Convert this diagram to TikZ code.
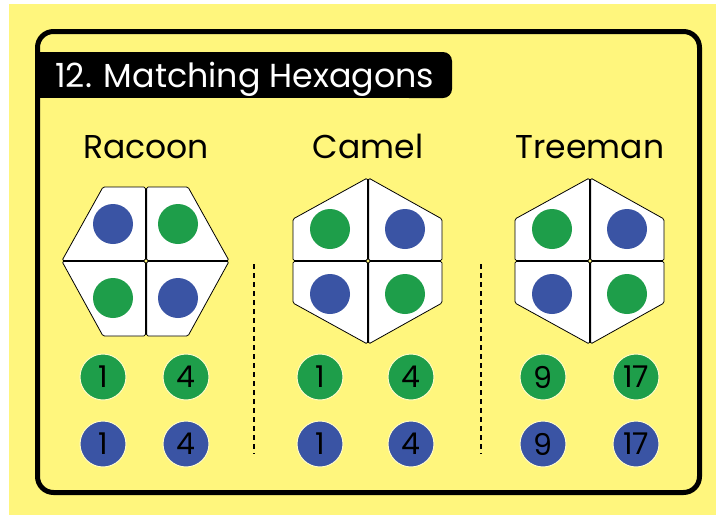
\documentclass[tikz,border=0pt]{standalone}
\usepackage{fontspec}
\setmainfont{Poppins}
\definecolor{bgyellow}{RGB}{255,246,125}
\definecolor{dotgreen}{RGB}{30,158,74}
\definecolor{dotblue}{RGB}{58,84,164}
\begin{document}
\begin{tikzpicture}[x=1pt,y=-1pt,
  piece/.style={fill=white, draw=black, line width=0.8pt, rounded corners=1.5pt},
  dot/.style={circle, minimum size=40pt, inner sep=0pt},
  numc/.style={circle, minimum size=46pt, inner sep=0pt, draw=white!55!bgyellow, line width=1pt, font=\fontsize{30}{30}\selectfont, text=black},
  sep/.style={dash pattern=on 5pt off 4pt, line width=1.8pt},
  label/.style={anchor=base, font=\fontsize{33}{33}\selectfont, text=black}]
\useasboundingbox (0,0) rectangle (716,515);
\fill[bgyellow] (9,4) rectangle (716,515);
\draw[line width=5pt, rounded corners=16pt] (37.5,31.5) rectangle (699.5,492.5);
% title bar
\fill[black] (35,52) rectangle (440,98);
\fill[black, rounded corners=9pt] (400,52) rectangle (452,98);
\node[anchor=base west, inner sep=0pt, text=white, font=\fontsize{33.3}{33.3}\selectfont] (title) at (55,87) {12. Matching Hexagons};
% labels
\node[label] (racoon) at (146,158) {Racoon};
\node[label] (camel) at (368,158) {Camel};
\node[label] (treeman) at (590,158) {Treeman};
% Racoon hexagon (flat top)
\draw[piece] (62,260.6) -- (103,187) -- (145.4,187) -- (145.4,260.6) -- cycle;
\draw[piece] (146.6,187) -- (188,187) -- (229,260.6) -- (146.6,260.6) -- cycle;
\draw[piece] (62,261.4) -- (145.4,261.4) -- (145.4,336) -- (103,336) -- cycle;
\draw[piece] (146.6,261.4) -- (229,261.4) -- (188,336) -- (146.6,336) -- cycle;
% Camel hexagon (pointy top)
\draw[piece] (367.4,178) -- (293,219) -- (293,260.6) -- (367.4,260.6) -- cycle;
\draw[piece] (368.6,178) -- (368.6,260.6) -- (442,260.6) -- (442,219) -- cycle;
\draw[piece] (293,261.4) -- (367.4,261.4) -- (367.4,344) -- (293,303) -- cycle;
\draw[piece] (368.6,261.4) -- (442,261.4) -- (442,303) -- (368.6,344) -- cycle;
% Treeman hexagon (pointy top)
\draw[piece] (589.4,178) -- (515,219) -- (515,260.6) -- (589.4,260.6) -- cycle;
\draw[piece] (590.6,178) -- (590.6,260.6) -- (664,260.6) -- (664,219) -- cycle;
\draw[piece] (515,261.4) -- (589.4,261.4) -- (589.4,344) -- (515,303) -- cycle;
\draw[piece] (590.6,261.4) -- (664,261.4) -- (664,303) -- (590.6,344) -- cycle;
% dots
\node[dot, fill=dotblue] (r1) at (113,224) {};
\node[dot, fill=dotgreen] (r2) at (178,224) {};
\node[dot, fill=dotgreen] (r3) at (113,298) {};
\node[dot, fill=dotblue] (r4) at (178,298) {};
\node[dot, fill=dotgreen] (c1) at (330,229) {};
\node[dot, fill=dotblue] (c2) at (405,229) {};
\node[dot, fill=dotblue] (c3) at (330,294) {};
\node[dot, fill=dotgreen] (c4) at (405,294) {};
\node[dot, fill=dotgreen] (t1) at (552,229) {};
\node[dot, fill=dotblue] (t2) at (627,229) {};
\node[dot, fill=dotblue] (t3) at (552,294) {};
\node[dot, fill=dotgreen] (t4) at (627,294) {};
% separators
\coordinate (s1a) at (254,264); \coordinate (s1b) at (254,454);
\coordinate (s2a) at (481,264); \coordinate (s2b) at (481,454);
\draw[sep] (s1a) -- (s1b);
\draw[sep] (s2a) -- (s2b);
% number circles
\node[numc, fill=dotgreen] (rn1) at (103,377) {1};
\node[numc, fill=dotgreen] (rn2) at (186,377) {4};
\node[numc, fill=dotblue] (rn3) at (103,444) {1};
\node[numc, fill=dotblue] (rn4) at (186,444) {4};
\node[numc, fill=dotgreen] (cn1) at (320,377) {1};
\node[numc, fill=dotgreen] (cn2) at (411,377) {4};
\node[numc, fill=dotblue] (cn3) at (320,444) {1};
\node[numc, fill=dotblue] (cn4) at (411,444) {4};
\node[numc, fill=dotgreen] (tn1) at (543,377) {9};
\node[numc, fill=dotgreen] (tn2) at (636,377) {17};
\node[numc, fill=dotblue] (tn3) at (543,444) {9};
\node[numc, fill=dotblue] (tn4) at (636,444) {17};
\end{tikzpicture}
\end{document}
